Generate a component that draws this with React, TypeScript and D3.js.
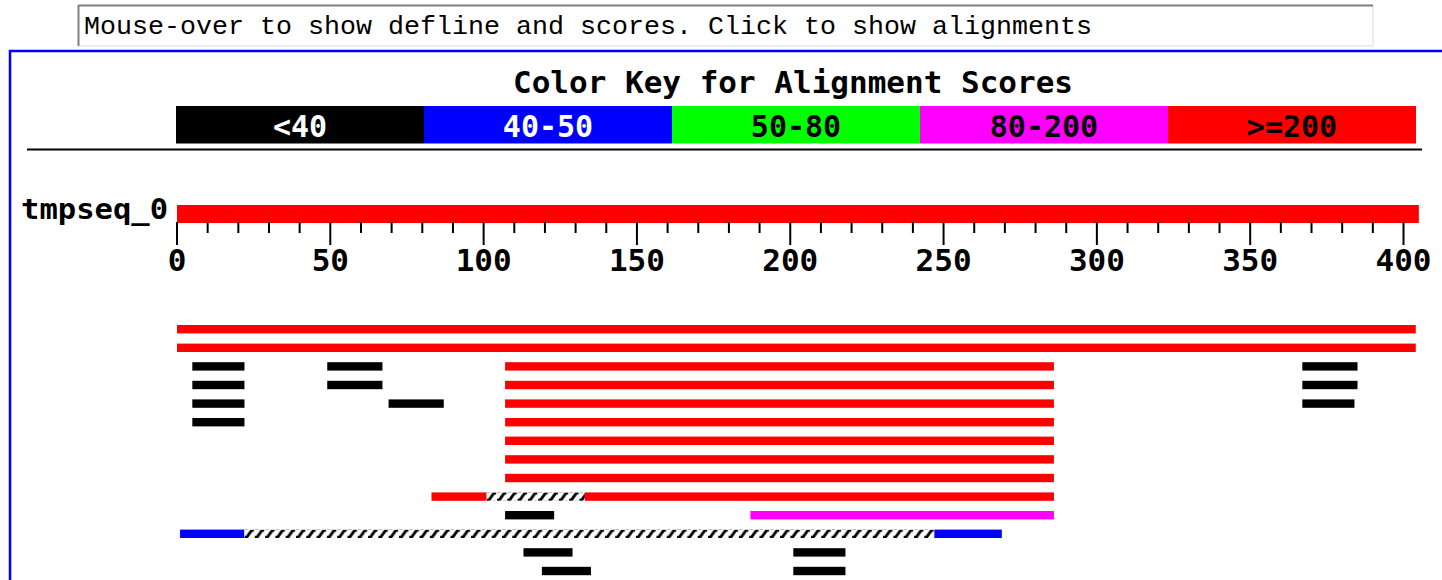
import React from "react";
import * as d3 from "d3";

// ---- data ----
const queryName = "tmpseq_0";
const queryLength = 405;
const messageText = "Mouse-over to show defline and scores. Click to show alignments";
const keyTitle = "Color Key for Alignment Scores";
const keyLabels = ["<40", "40-50", "50-80", "80-200", ">=200"];
const keyColors = ["#000000", "#0000ff", "#00ff00", "#ff00ff", "#ff0000"];
const keyTextColors = ["#ffffff", "#ffffff", "#000000", "#000000", "#000000"];
const axisTickValues = [0, 50, 100, 150, 200, 250, 300, 350, 400];
const axisTickLabels = ["0", "50", "100", "150", "200", "250", "300", "350", "400"];
const minorTickStep = 10;

// hit segments: [row, start, end, scoreClass]  (scoreClass = index into keyColors, -1 = gap/hatched)
const hitSegments: [number, number, number, number][] = [
  [0, 0, 404, 4],
  [1, 0, 404, 4],
  [2, 5, 22, 0], [2, 49, 67, 0], [2, 107, 286, 4], [2, 367, 385, 0],
  [3, 5, 22, 0], [3, 49, 67, 0], [3, 107, 286, 4], [3, 367, 385, 0],
  [4, 5, 22, 0], [4, 69, 87, 0], [4, 107, 286, 4], [4, 367, 384, 0],
  [5, 5, 22, 0], [5, 107, 286, 4],
  [6, 107, 286, 4],
  [7, 107, 286, 4],
  [8, 107, 286, 4],
  [9, 83, 101, 4], [9, 101, 133, -1], [9, 133, 286, 4],
  [10, 107, 123, 0], [10, 187, 286, 3],
  [11, 1, 22, 1], [11, 22, 247, -1], [11, 247, 269, 1],
  [12, 113, 129, 0], [12, 201, 218, 0],
  [13, 119, 135, 0], [13, 201, 218, 0],
];
const rowCount = 14;

const BOLD = "'DejaVu Sans Mono', monospace";

export default function App() {
  const x = d3.scaleLinear().domain([0, 400]).range([177, 1403.5]);
  const keyX = d3.scaleBand<string>().domain(keyLabels).range([176, 1416]);
  const y = d3.scaleLinear().domain([0, rowCount - 1]).range([325, 566.8]);
  const barH = 8.4;
  const minorTicks = d3.range(0, 401, minorTickStep);

  return (
    <svg
      width={1442}
      height={580}
      style={{ position: "absolute", left: 0, top: 0, background: "#fff" }}
    >
      <defs>
        {hitSegments.map((s, i) =>
          s[3] === -1 ? (
            <pattern
              key={i}
              id={`hatch${i}`}
              patternUnits="userSpaceOnUse"
              x={x(s[1])}
              y={y(s[0])}
              width={10.3}
              height={barH}
            >
              <rect width={10.3} height={barH} fill="#fff" />
              <polygon
                points={`0,${barH} 3.5,${barH} 8,2.2 9.5,2.2 9.5,0 6,0 1.5,6.2 0,6.2`}
                fill="#000"
              />
            </pattern>
          ) : null
        )}
      </defs>

      {/* message box */}
      <rect x={78} y={5} width={1295} height={41} fill="#fff" />
      <line x1={78} y1={46} x2={1373} y2={46} stroke="#eeeeee" strokeWidth={2} />
      <line x1={1373} y1={5} x2={1373} y2={46} stroke="#eeeeee" strokeWidth={2} />
      <line x1={78} y1={5.5} x2={1373} y2={5.5} stroke="#808080" strokeWidth={2} />
      <line x1={78.5} y1={5} x2={78.5} y2={46} stroke="#808080" strokeWidth={2} />
      <text
        x={84}
        y={34}
        fontFamily="'Liberation Mono', 'Courier New', monospace"
        fontSize={26.5}
        textLength={1008}
        lengthAdjust="spacingAndGlyphs"
        fill="#000"
      >
        {messageText}
      </text>

      {/* blue frame */}
      <rect x={10} y={51} width={1500} height={600} fill="none" stroke="#0000ff" strokeWidth={2.5} />

      {/* color key */}
      <text
        x={793}
        y={93}
        textAnchor="middle"
        fontFamily={BOLD}
        fontWeight="bold"
        fontSize={31}
        textLength={560}
        lengthAdjust="spacingAndGlyphs"
      >
        {keyTitle}
      </text>
      {keyLabels.map((k, i) => (
        <g key={k}>
          <rect x={keyX(k)} y={106} width={keyX.bandwidth()} height={37.5} fill={keyColors[i]} />
          <text
            x={(keyX(k) as number) + keyX.bandwidth() / 2}
            y={137}
            textAnchor="middle"
            fontFamily={BOLD}
            fontWeight="bold"
            fontSize={30}
            fill={keyTextColors[i]}
          >
            {k}
          </text>
        </g>
      ))}
      <line x1={27} y1={149.5} x2={1422} y2={149.5} stroke="#000" strokeWidth={2.2} />

      {/* query */}
      <text
        x={168}
        y={219}
        textAnchor="end"
        fontFamily={BOLD}
        fontWeight="bold"
        fontSize={28}
        textLength={147}
        lengthAdjust="spacingAndGlyphs"
      >
        {queryName}
      </text>
      <rect x={x(0)} y={205} width={x(queryLength) - x(0)} height={18} fill="#ff0000" />

      {/* axis */}
      {minorTicks.map((t) => (
        <line
          key={t}
          x1={x(t)}
          x2={x(t)}
          y1={222}
          y2={t % 50 === 0 ? 245 : 233}
          stroke="#000"
          strokeWidth={2}
        />
      ))}
      {axisTickValues.map((t, i) => (
        <text
          key={t}
          x={x(t)}
          y={271}
          textAnchor="middle"
          fontFamily={BOLD}
          fontWeight="bold"
          fontSize={31}
        >
          {axisTickLabels[i]}
        </text>
      ))}

      {/* hits */}
      {hitSegments.map((s, i) => (
        <rect
          key={i}
          x={x(s[1])}
          y={y(s[0])}
          width={x(s[2]) - x(s[1])}
          height={barH}
          fill={s[3] === -1 ? `url(#hatch${i})` : keyColors[s[3]]}
        />
      ))}
    </svg>
  );
}
